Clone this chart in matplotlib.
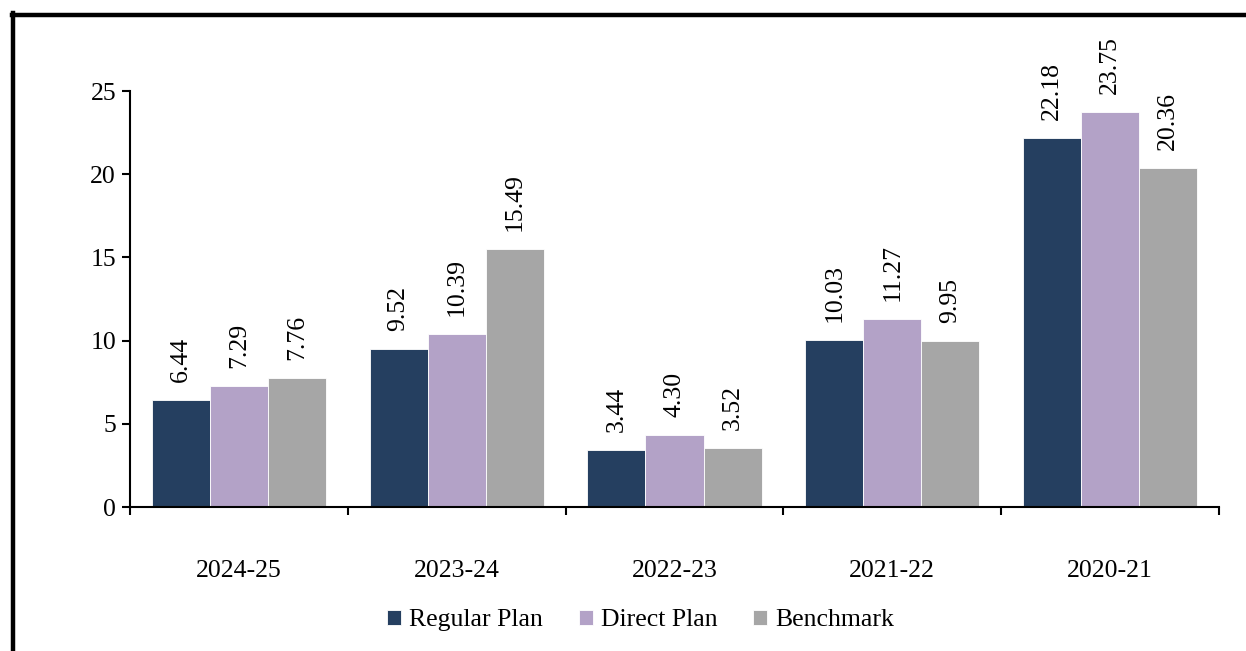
import numpy as np
import matplotlib
matplotlib.use("Agg")
from matplotlib import pyplot as plt
from matplotlib.lines import Line2D

years = ["2024-25", "2023-24", "2022-23", "2021-22", "2020-21"]
regular_plan = [6.44, 9.52, 3.44, 10.03, 22.18]
direct_plan = [7.29, 10.39, 4.30, 11.27, 23.75]
benchmark = [7.76, 15.49, 3.52, 9.95, 20.36]

series = [
    ("Regular Plan", regular_plan, "#253f60"),
    ("Direct Plan", direct_plan, "#b3a2c7"),
    ("Benchmark", benchmark, "#a6a6a6"),
]

plt.rcParams["font.family"] = ["Liberation Serif", "DejaVu Serif"]
fs = 18.5

fig = plt.figure(figsize=(12.46, 6.51), dpi=100)
ax = fig.add_axes([130 / 1246, 1 - 507 / 651, (1219 - 130) / 1246, (507 - 91) / 651])

x = np.arange(len(years))
width = 0.8 / 3
for i, (name, vals, color) in enumerate(series):
    pos = x + (i - 1) * width
    bars = ax.bar(pos, vals, width, color=color, edgecolor="white", linewidth=0.6, label=name)
    for b, v in zip(bars, vals):
        ax.annotate(f"{v:.2f}", (b.get_x() + b.get_width() / 2, v), xytext=(0, 13),
                    textcoords="offset points", rotation=90, ha="center", va="bottom",
                    fontsize=fs)

ax.set_xlim(-0.5, len(years) - 0.5)
ax.set_ylim(0, 25)
ax.set_yticks([0, 5, 10, 15, 20, 25])
ax.set_xticks(x)
ax.set_xticklabels(years)
ax.set_xticks(np.arange(len(years) + 1) - 0.5, minor=True)
ax.tick_params(axis="x", which="major", length=0, pad=38, labelsize=fs)
ax.tick_params(axis="x", which="minor", length=6, width=1.5, direction="out")
ax.tick_params(axis="y", length=6, width=1.5, direction="out", labelsize=fs, pad=4)
for side in ["top", "right"]:
    ax.spines[side].set_visible(False)
for side in ["left", "bottom"]:
    ax.spines[side].set_linewidth(1.5)

fig.legend(loc="center", bbox_to_anchor=(0.514, 0.047), ncol=3, frameon=False,
           fontsize=fs, handlelength=0.55, handleheight=0.55, handletextpad=0.3,
           columnspacing=1.4)

# outer frame (top and left edges visible)
fig.add_artist(Line2D([12 / 1246, 1.0], [1 - 14.5 / 651, 1 - 14.5 / 651], color="black",
                      linewidth=3.2, transform=fig.transFigure))
fig.add_artist(Line2D([12.5 / 1246, 12.5 / 1246], [0.0, 1 - 13 / 651], color="black",
                      linewidth=3.2, transform=fig.transFigure))

fig.savefig("out.png", dpi=100)
